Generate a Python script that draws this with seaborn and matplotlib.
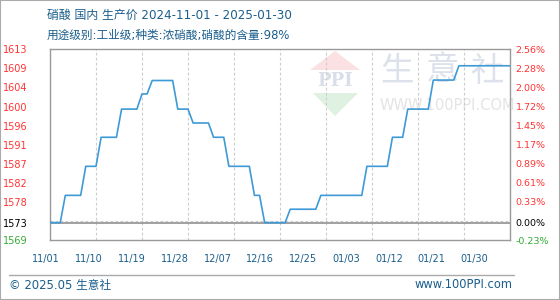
import numpy as np
import pandas as pd
import matplotlib
matplotlib.use("Agg")
import matplotlib.pyplot as plt
from matplotlib.patches import Polygon, Rectangle
from matplotlib.lines import Line2D
import seaborn as sns

# ---------------- data ----------------
START_DATE = "2024-11-01"
END_DATE = "2025-01-30"
BASE_PRICE = 1573
Y_MIN, Y_MAX = 1569, 1613

prices = [
    1573, 1573, 1573,
    1579.3, 1579.3, 1579.3, 1579.3,
    1586.0, 1586.0, 1586.0,
    1592.7, 1592.7, 1592.7, 1592.7,
    1599.2, 1599.2, 1599.2, 1599.2,
    1602.7, 1602.7,
    1605.8, 1605.8, 1605.8, 1605.8, 1605.8,
    1599.2, 1599.2, 1599.2,
    1596.0, 1596.0, 1596.0, 1596.0,
    1592.7, 1592.7, 1592.7,
    1586.0, 1586.0, 1586.0, 1586.0, 1586.0,
    1579.3, 1579.3,
    1573, 1573, 1573, 1573, 1573,
    1576.1, 1576.1, 1576.1, 1576.1, 1576.1, 1576.1,
    1579.3, 1579.3, 1579.3, 1579.3, 1579.3, 1579.3, 1579.3, 1579.3, 1579.3,
    1586.0, 1586.0, 1586.0, 1586.0, 1586.0,
    1592.7, 1592.7, 1592.7,
    1599.2, 1599.2, 1599.2, 1599.2, 1599.2,
    1605.9, 1605.9, 1605.9, 1605.9, 1605.9,
    1609.2, 1609.2, 1609.2, 1609.2, 1609.2, 1609.2, 1609.2, 1609.2, 1609.2, 1609.2, 1609.2,
]
dates = pd.date_range(START_DATE, END_DATE, freq="D")

x_tick_labels = ["11/01", "11/10", "11/19", "11/28", "12/07", "12/16",
                 "12/25", "01/03", "01/12", "01/21", "01/30"]
left_labels = ["1569", "1573", "1578", "1582", "1587", "1591",
               "1596", "1600", "1604", "1609", "1613"]
right_labels = ["-0.23%", "0.00%", "0.33%", "0.61%", "0.89%", "1.17%",
                "1.45%", "1.72%", "2.00%", "2.28%", "2.56%"]

title_line1 = "硝酸 国内 生产价 2024-11-01 - 2025-01-30"
title_line2 = "用途级别:工业级;种类:浓硝酸;硝酸的含量:98%"
footer_left = "© 2025.05 生意社"
footer_right = "www.100PPI.com"

# ---------------- style ----------------
sns.set_style("white")
plt.rcParams["font.family"] = ["DejaVu Sans", "Noto Sans CJK SC"]

RED = "#ff3333"
GREEN = "#33aa33"
BLUE_TXT = "#1a5e8c"
LINE = "#3d9ad6"
FRAME = "#999999"
GRID = "#cccccc"

W, H = 560, 300
fig = plt.figure(figsize=(W / 100, H / 100), dpi=100)
fig.patch.set_facecolor("white")

def fx(px):
    return px / W

def fy(py):
    return 1 - py / H

ax = fig.add_axes([fx(50), fy(240), (510 - 50) / W, (240 - 49.3) / H])
ax.set_facecolor("none")

df = pd.DataFrame({"date": dates, "price": prices})
sns.lineplot(data=df, x="date", y="price", ax=ax, color=LINE, linewidth=1.2, zorder=3)

ax.set_xlim(dates[0], dates[-1])
ax.set_ylim(Y_MIN, Y_MAX)
ax.set_xlabel("")
ax.set_ylabel("")

# vertical grid at every 9 days
ax.set_xticks(dates[::9])
ax.set_xticklabels([])
ax.grid(which="major", axis="x", color=GRID, linestyle=(0, (2.5, 2)), linewidth=0.8)

# horizontal grid: even divisions of the range
grid_vals = np.linspace(Y_MIN, Y_MAX, 11)
ax.set_yticks(grid_vals[1:-1], minor=True)
ax.grid(which="minor", axis="y", color=GRID, linestyle=(0, (2.5, 2)), linewidth=0.8)

label_pos = grid_vals.copy()
label_pos[1] = BASE_PRICE
ax.set_yticks(label_pos)
ax.set_yticklabels(left_labels)
ax.tick_params(axis="y", which="both", length=0, pad=16, labelsize=7)
ax.tick_params(axis="x", which="both", length=0)

def color_for(i):
    if i == 0:
        return GREEN
    if i == 1:
        return "black"
    return RED

for i, t in enumerate(ax.get_yticklabels()):
    t.set_color(color_for(i))

ax.axhline(BASE_PRICE, color=FRAME, linewidth=1.3, zorder=2)

for s in ax.spines.values():
    s.set_color(FRAME)
    s.set_linewidth(1.0)

# right percentage axis
axR = ax.twinx()
axR.set_ylim(Y_MIN, Y_MAX)
axR.set_yticks(label_pos)
axR.set_yticklabels(right_labels)
axR.tick_params(axis="y", length=0, pad=4, labelsize=6.8)
for i, t in enumerate(axR.get_yticklabels()):
    t.set_color(color_for(i))
for s in axR.spines.values():
    s.set_visible(False)

# x tick labels on an evenly spaced label axis
axX = fig.add_axes([fx(46.2), fy(240), (474.5 - 46.2) / W, (240 - 49.3) / H])
axX.set_facecolor("none")
axX.set_xlim(0, len(x_tick_labels) - 1)
axX.set_xticks(range(len(x_tick_labels)))
axX.set_xticklabels(x_tick_labels, color=BLUE_TXT, fontsize=7)
axX.tick_params(axis="x", length=0, pad=10)
axX.set_yticks([])
for s in axX.spines.values():
    s.set_visible(False)

# titles
fig.text(fx(47), fy(15), title_line1, color=BLUE_TXT, fontsize=8.6, va="center", ha="left")
fig.text(fx(47), fy(35), title_line2, color=BLUE_TXT, fontsize=8.4, va="center", ha="left")

# watermark
wm_kw = dict(transform=fig.transFigure, zorder=-1)
fig.add_artist(Polygon([[fx(335), fy(51)], [fx(310), fy(70)], [fx(360), fy(70)]],
                       closed=True, facecolor="#fbe1e1", edgecolor="none", **wm_kw))
fig.add_artist(Polygon([[fx(313), fy(93)], [fx(358), fy(93)], [fx(335), fy(116)]],
                       closed=True, facecolor="#dff2e1", edgecolor="none", **wm_kw))
fig.text(fx(335), fy(81), "PPI", color="#d9dee9", fontsize=13, fontweight="bold",
         family="DejaVu Serif", ha="center", va="center", zorder=-1)
for ch, cx in zip("生意社", [397, 443, 487]):
    fig.text(fx(cx), fy(71), ch, color="#dde1ec", fontsize=24, ha="center", va="center",
             family=["Noto Sans CJK SC"], zorder=-1)
fig.text(fx(447), fy(106), "WWW.100PPI.COM", color="#e4e4e4", fontsize=10.5,
         ha="center", va="center", zorder=-1)

# footer
fig.add_artist(Line2D([fx(9), fx(514)], [fy(275), fy(275)], color="#aaaaaa", linewidth=1,
                      transform=fig.transFigure))
fig.text(fx(9), fy(285), footer_left, color=BLUE_TXT, fontsize=8.4, ha="left", va="center")
fig.text(fx(513), fy(285), footer_right, color=BLUE_TXT, fontsize=8.3, ha="right", va="center")

# outer border
fig.add_artist(Rectangle((0, 0), 1, 1, transform=fig.transFigure, fill=False,
                         edgecolor="#aaaaaa", linewidth=1.5))

fig.savefig("out.png", dpi=100)
